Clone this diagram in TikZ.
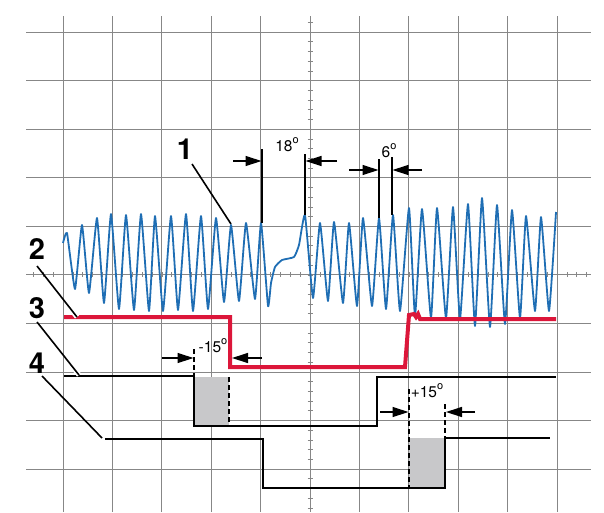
\documentclass[tikz,border=0pt]{standalone}
\usepackage{fontspec}
\setmainfont{TeX Gyre Heros}
\usetikzlibrary{arrows.meta,calc}
\definecolor{wave}{RGB}{31,110,180}
\definecolor{trace}{RGB}{220,22,58}
\definecolor{gridc}{RGB}{135,135,135}
\definecolor{shade}{RGB}{200,200,202}
\newcommand{\degsym}{\raisebox{0.5em}{\fontsize{11}{11}\selectfont o}}
\begin{document}
\begin{tikzpicture}[x=1pt,y=-1pt,
 gridline/.style={draw=gridc, line width=0.8pt},
 tickline/.style={draw=gridc, line width=0.6pt},
 wavepath/.style={draw=wave, line width=1.8pt, line join=round},
 redtrace/.style={draw=trace, line width=4pt, line join=miter},
 blacktrace/.style={draw=black, line width=1.5pt},
 marker/.style={draw=black, line width=1.5pt},
 dashmark/.style={draw=black, line width=1.3pt, dash pattern=on 5pt off 3pt},
 dimarrow/.style={draw=black, line width=1.3pt, -{Triangle[length=16pt,width=10pt]}},
 pointer/.style={draw=black, line width=1.6pt},
 halo/.style={draw=white, line width=5pt},
 biglabel/.style={font=\fontsize{29}{29}\selectfont\bfseries, inner sep=0pt},
 anglabel/.style={font=\fontsize{15.5}{15.5}\selectfont, inner sep=0pt},
 shadebox/.style={fill=shade}
]
\useasboundingbox (0,0) rectangle (604,512);
% grid
\foreach \i in {0,...,10} \draw[gridline] ({63+49.4*\i},16) -- ({63+49.4*\i},512);
\foreach \j in {0,...,9} \draw[gridline] (26,{32+48.56*\j}) -- (591,{32+48.56*\j});
\foreach \k in {-1,...,49} \draw[tickline] (307.5,{32+9.712*\k}) -- (313,{32+9.712*\k});
\foreach \k in {-3,...,53} \draw[tickline] ({63+9.88*\k},272.3) -- ({63+9.88*\k},277.3);
% shaded boxes
\fill[shadebox] (194,377) rectangle (229,426);
\fill[shadebox] (409,438) rectangle (445,488);
% waveform
\draw[wavepath] plot[smooth, tension=0.25] coordinates {
(63,243) (67,233) (75,289) (82,225) (89,293) (97,218) (104,303) (111,214)
(119,309) (126,215) (134,310) (141,214) (149,311) (155,216) (163,311) (171,216)
(178,310) (186,214) (193,311) (201,216) (208,309) (216,218) (224,302) (231,225)
(239,301) (246,223) (255,299) (261,223) (268,306) (271,283) (275,267) (282,260)
(294,257) (299,245) (305,215) (313,298) (320,223) (328,301) (334,222) (343,303)
(349,223) (357,306) (363,218) (372,306) (379,218) (386,309) (393,215) (400,311)
(409,208) (415,316) (422,209) (431,318) (437,208) (446,318) (453,207) (460,319)
(468,204) (475,326) (482,198) (490,327) (497,205) (505,324) (512,210) (520,318)
(526,216) (535,311) (541,217) (549,311) (556,212)};
% red trace
\draw[redtrace] (64,317) -- (230,317) -- (230,367) -- (405,367) -- (409,315) -- (414,314)
  -- (416,317) -- (418,314) -- (420,319) -- (556,319);
% trace 3
\draw[blacktrace] (64,376) -- (194,376) -- (194,426) -- (377,426) -- (377,377) -- (556,377);
% trace 4
\draw[blacktrace] (105,439) -- (263,439) -- (263,488) -- (445,488) -- (445,438) -- (550,438);
% dashed markers
\draw[dashmark] (194,349) -- (194,376);
\draw[dashmark] (229,377) -- (229,426);
\draw[dashmark] (409,389) -- (409,488);
\draw[dashmark] (445,404) -- (445,438);
% marker lines
\coordinate (m18at) at (262,149); \coordinate (m18ab) at (262,223);
\coordinate (m18bt) at (305,154); \coordinate (m18bb) at (305,215);
\coordinate (m6at) at (379,159); \coordinate (m6ab) at (379,218);
\coordinate (m6bt) at (392,157); \coordinate (m6bb) at (392,215);
\draw[marker] (m18at) -- (m18ab);
\draw[marker] (m18bt) -- (m18bb);
\draw[marker] (m6at) -- (m6ab);
\draw[marker] (m6bt) -- (m6bb);
% dimension arrows
\coordinate (a18l) at (233,161); \coordinate (a18lt) at (261.5,161);
\coordinate (a18r) at (337,161); \coordinate (a18rt) at (305.5,161);
\coordinate (a6l) at (349,170); \coordinate (a6lt) at (378.5,170);
\coordinate (a6r) at (422,170); \coordinate (a6rt) at (392.5,170);
\coordinate (a15l) at (162,358); \coordinate (a15lt) at (193.5,358);
\coordinate (a15r) at (262,358); \coordinate (a15rt) at (232,358);
\coordinate (b15l) at (380,412); \coordinate (b15lt) at (408.5,412);
\coordinate (b15r) at (475,412); \coordinate (b15rt) at (446,412);
\draw[dimarrow] (a18l) -- (a18lt);
\draw[dimarrow] (a18r) -- (a18rt);
\draw[dimarrow] (a6l) -- (a6lt);
\draw[dimarrow] (a6r) -- (a6rt);
\draw[dimarrow] (a15l) -- (a15lt);
\draw[dimarrow] (a15r) -- (a15rt);
\draw[dimarrow] (b15l) -- (b15lt);
\draw[dimarrow] (b15r) -- (b15rt);
% angle labels
\node[anglabel] (t18) at (287,145) {18\degsym};
\node[anglabel] (t6) at (389,151) {6\degsym};
\node[anglabel] (tm15) at (213,346) {-15\degsym};
\node[anglabel] (tp15) at (427,391) {+15\degsym};
% big labels and pointers
\node[biglabel] (lab1) at (185,149) {1};
\node[biglabel] (lab2) at (37,249) {2};
\node[biglabel] (lab3) at (37,308) {3};
\node[biglabel] (lab4) at (37,363) {4};
\coordinate (p1s) at (192,164); \coordinate (p1e) at (231,224);
\coordinate (p2s) at (37,266); \coordinate (p2e) at (77,317);
\coordinate (p3s) at (37,322); \coordinate (p3e) at (79,375);
\coordinate (p4s) at (42,376); \coordinate (p4e) at (102,438);
\draw[halo] ($(p2s)!0.8!(p2e)$) -- (p2e);
\draw[halo] ($(p3s)!0.8!(p3e)$) -- (p3e);
\draw[pointer] (p1s) -- (p1e);
\draw[pointer] (p2s) -- (p2e);
\draw[pointer] (p3s) -- (p3e);
\draw[pointer] (p4s) -- (p4e);
\end{tikzpicture}
\end{document}
